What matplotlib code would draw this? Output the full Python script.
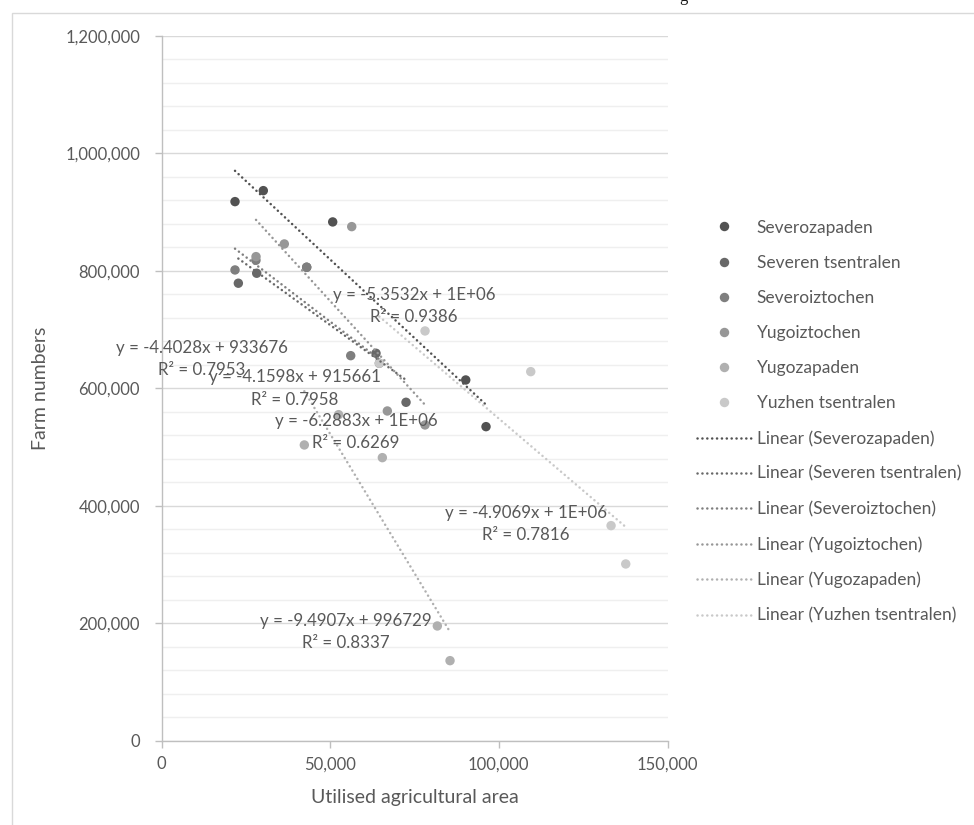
import matplotlib
matplotlib.use('Agg')
import matplotlib.pyplot as plt
from matplotlib.patches import Rectangle
from matplotlib.lines import Line2D
from matplotlib.ticker import FuncFormatter, MultipleLocator

plt.rcParams['font.family'] = ['Lato', 'DejaVu Sans']

regions = ['Severozapaden', 'Severen tsentralen', 'Severoiztochen',
           'Yugoiztochen', 'Yugozapaden', 'Yuzhen tsentralen']

# Utilised agricultural area (x) and farm numbers (y) per planning region
area_severozapaden = [21790, 30180, 50750, 90190, 96200]
farms_severozapaden = [917900, 936600, 883300, 614100, 534600]

area_severen_tsentralen = [22780, 28220, 43040, 63590, 72490]
farms_severen_tsentralen = [778900, 795900, 806100, 659600, 576100]

area_severoiztochen = [21790, 28000, 43040, 56090, 64580]
farms_severoiztochen = [801500, 818000, 806100, 655500, 642600]

area_yugoiztochen = [28020, 36410, 56390, 66950, 78120]
farms_yugoiztochen = [824200, 845800, 875300, 561300, 537500]

area_yugozapaden = [42340, 52500, 65470, 81770, 85530]
farms_yugozapaden = [503400, 555000, 481800, 195100, 136000]

area_yuzhen_tsentralen = [64580, 78120, 109460, 133270, 137620]
farms_yuzhen_tsentralen = [642600, 697600, 628300, 366000, 300700]

# Linear trend lines: slope, intercept and R-squared for each region
trend_slopes = [-5.3532, -4.1598, -4.4028, -6.2883, -9.4907, -4.9069]
trend_intercepts = [1087000, 915661, 933676, 1063000, 996729, 1039000]
trend_r2 = [0.9386, 0.7958, 0.7953, 0.6269, 0.8337, 0.7816]

# Where each trend-line equation is written (x, y in data units)
label_x = [74860, 39580, 11860, 57660, 54700, 108000]
label_y = [739860, 599660, 649570, 525550, 184500, 368480]

areas = [area_severozapaden, area_severen_tsentralen, area_severoiztochen,
         area_yugoiztochen, area_yugozapaden, area_yuzhen_tsentralen]
farms = [farms_severozapaden, farms_severen_tsentralen, farms_severoiztochen,
         farms_yugoiztochen, farms_yugozapaden, farms_yuzhen_tsentralen]

colors = ['#525252', '#686868', '#7f7f7f', '#979797', '#b0b0b0', '#c9c9c9']
text_color = '#595959'
axis_color = '#bfbfbf'
dot_style = (0, (0.05, 1.9))
trend_lw = 1.8

W, H = 974, 825
fig = plt.figure(figsize=(W / 100, H / 100), dpi=100)

# light frame around the chart
fig.patches.append(Rectangle((12 / W, -0.05), 1.2, 1 - 13 / H + 0.05,
                             transform=fig.transFigure, fill=False,
                             edgecolor='#d9d9d9', linewidth=1.0))

ax = fig.add_axes([161.5 / W, 1 - 740.5 / H, 506 / W, 704.5 / H])

for i in range(len(regions)):
    ax.scatter(areas[i], farms[i], s=46, color=colors[i], edgecolors='none',
               zorder=3 + i * 0.01, label=regions[i])

for i in range(len(regions)):
    x0, x1 = min(areas[i]), max(areas[i])
    ax.plot([x0, x1],
            [trend_slopes[i] * x0 + trend_intercepts[i],
             trend_slopes[i] * x1 + trend_intercepts[i]],
            color=colors[i], lw=trend_lw, linestyle=dot_style,
            dash_capstyle='round', zorder=4)


def fmt_intercept(b):
    return '1E+06' if b >= 1e6 else f'{b:.0f}'


for i in range(len(regions)):
    txt = (f'y = {trend_slopes[i]:.4f}x + {fmt_intercept(trend_intercepts[i])}\n'
           f'R\u00b2 = {trend_r2[i]:.4f}')
    ax.text(label_x[i], label_y[i], txt, ha='center', va='center',
            fontsize=12.2, color=text_color, linespacing=1.5, zorder=6)

ax.set_xlim(0, 150000)
ax.set_ylim(0, 1200000)
ax.xaxis.set_major_locator(MultipleLocator(50000))
ax.yaxis.set_major_locator(MultipleLocator(200000))
ax.yaxis.set_minor_locator(MultipleLocator(40000))
comma = FuncFormatter(lambda v, p: f'{v:,.0f}')
ax.xaxis.set_major_formatter(comma)
ax.yaxis.set_major_formatter(comma)

ax.grid(axis='y', which='major', color='#d9d9d9', lw=1.0, zorder=0)
ax.grid(axis='y', which='minor', color='#efefef', lw=1.0, zorder=0)
ax.set_axisbelow(True)
for side in ('top', 'right'):
    ax.spines[side].set_visible(False)
for side in ('left', 'bottom'):
    ax.spines[side].set_color(axis_color)
    ax.spines[side].set_linewidth(1.0)
ax.tick_params(which='major', direction='out', length=5, width=1,
               color=axis_color, labelcolor=text_color, labelsize=12)
ax.tick_params(axis='y', which='major', pad=10.4)
ax.tick_params(axis='x', which='major', pad=6.5)
ax.tick_params(which='minor', length=0)

fig.text(414.5 / W, 1 - 797 / H, 'Utilised agricultural area', ha='center',
         va='center', fontsize=14, color=text_color)
fig.text(40 / W, 1 - 388 / H, 'Farm numbers', ha='center', va='center',
         rotation=90, fontsize=14, color=text_color)

handles = [Line2D([], [], marker='o', linestyle='none', markersize=6.8,
                  markerfacecolor=c, markeredgecolor='none') for c in colors]
handles += [Line2D([], [], color=c, lw=trend_lw, linestyle=dot_style,
                   dash_capstyle='round') for c in colors]
labels = regions + [f'Linear ({r})' for r in regions]
fig.legend(handles, labels, loc='upper left',
           bbox_to_anchor=(697 / W, 1 - 219.5 / H), frameon=False,
           fontsize=12.5, labelcolor=text_color, handlelength=3.1,
           handletextpad=0.35, labelspacing=1.1, borderpad=0,
           borderaxespad=0)

# descender of the caption line above the chart
fig.text(683 / W, 1 - 1 / H, 'g', ha='center', va='baseline',
         family='Liberation Serif', fontsize=12, color='#1a1a1a')

fig.savefig('out.png', dpi=100)
